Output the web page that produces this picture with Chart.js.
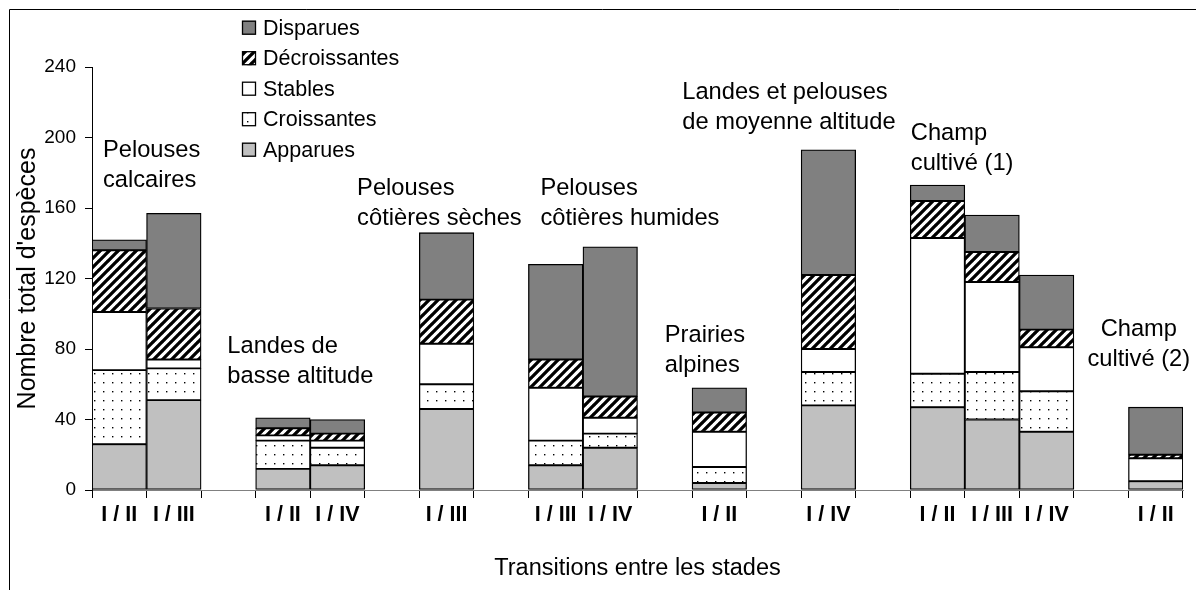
<!DOCTYPE html>
<html><head><meta charset="utf-8">
<script src="https://cdn.jsdelivr.net/npm/chart.js@4/dist/chart.umd.min.js"></script>
<style>html,body{margin:0;padding:0;background:#fff;}canvas{display:block;}</style>
</head><body>
<canvas id="c" width="1196" height="590"></canvas>
<script>
// ---- data ----
const transitions = ['I / II','I / III','','I / II','I / IV','','I / III','','I / III','I / IV','','I / II','','I / IV','','I / II','I / III','I / IV','','I / II'];
const apparues      = [26,51,null,12,14,null,46,null,14,24,null, 4,null,48,null,47,40,33,null, 5];
const croissantes   = [42,18,null,16,10,null,14,null,14, 8,null, 9,null,19,null,19,27,23,null, 0];
const stables       = [33, 5,null, 3, 4,null,23,null,30, 9,null,20,null,13,null,77,51,25,null,13];
const decroissantes = [35,29,null, 4, 4,null,25,null,16,12,null,11,null,42,null,21,17,10,null, 2];
const disparues     = [ 6,54,null, 6, 8,null,38,null,54,85,null,14,null,71,null, 9,21,31,null,27];
const seriesNames = ['Apparues','Croissantes','Stables','Décroissantes','Disparues'];
const yTickValues = [0,40,80,120,160,200,240];
const groupNames = [
  ['Pelouses','calcaires'],
  ['Landes de','basse altitude'],
  ['Pelouses','côtières sèches'],
  ['Pelouses','côtières humides'],
  ['Prairies','alpines'],
  ['Landes et pelouses','de moyenne altitude'],
  ['Champ','cultivé (1)'],
  ['Champ','cultivé (2)']
];
const yTitle = "Nombre total d'espèces";
const xTitle = 'Transitions entre les stades';

// ---- layout (anchors in data units: category index, value) ----
const groupAnchors = [
  {x:-0.30, y:188.9, align:'left'},
  {x: 1.98, y: 77.7, align:'left'},
  {x: 4.36, y:167.4, align:'left'},
  {x: 7.72, y:167.4, align:'left'},
  {x:10.00, y: 84.0, align:'left'},
  {x:10.32, y:221.7, align:'left'},
  {x:14.51, y:198.6, align:'left'},
  {x:18.69, y: 87.4, align:'center'}
];
const FONT = '"Liberation Sans", Arial, sans-serif';

const canvas = document.getElementById('c');
const ctx = canvas.getContext('2d');

function stripePattern(){
  const s = 9, c = document.createElement('canvas'); c.width = c.height = s;
  const g = c.getContext('2d');
  g.fillStyle = '#fff'; g.fillRect(0,0,s,s);
  g.strokeStyle = '#000'; g.lineWidth = 3.3; g.beginPath();
  for (const o of [-s,0,s]) { g.moveTo(o-1, s+1); g.lineTo(o+s+1, -1); }
  g.stroke();
  return ctx.createPattern(c,'repeat');
}
function dotPattern(){
  const s = 9, c = document.createElement('canvas'); c.width = c.height = s;
  const g = c.getContext('2d');
  g.fillStyle = '#fff'; g.fillRect(0,0,s,s);
  g.fillStyle = '#000'; g.fillRect(4,4,1.4,1.4);
  return ctx.createPattern(c,'repeat');
}
const fills = ['#c0c0c0', dotPattern(), '#ffffff', stripePattern(), '#808080'];
const seriesData = [apparues, croissantes, stables, decroissantes, disparues];

const overlay = {
  id:'overlay',
  afterDraw(chart){
    const c = chart.ctx, xs = chart.scales.x, ys = chart.scales.y;
    c.save();
    // frame
    c.strokeStyle = '#000'; c.lineWidth = 1;
    c.beginPath(); c.moveTo(9.5, 590); c.lineTo(9.5, 9.5); c.lineTo(1196, 9.5); c.stroke();
    // legend
    const order = [4,3,2,1,0];
    c.font = '21.5px ' + FONT; c.textBaseline = 'alphabetic'; c.textAlign = 'left';
    order.forEach((si, k) => {
      const base = 34.7 + k*30.5;
      c.fillStyle = fills[si];
      c.fillRect(242, base-14, 14, 14);
      c.strokeStyle = '#000'; c.lineWidth = 1.3;
      c.strokeRect(242.5, base-13.5, 13, 13);
      c.fillStyle = '#000';
      c.fillText(seriesNames[si], 263, base);
    });
    // group labels
    c.font = '23.7px ' + FONT; c.fillStyle = '#000';
    groupNames.forEach((lines, i) => {
      const a = groupAnchors[i];
      const px = xs.getPixelForValue(a.x);
      const py = ys.getPixelForValue(a.y);
      c.textAlign = a.align;
      lines.forEach((t, j) => c.fillText(t, px, py + j*30));
    });
    c.restore();
  }
};

new Chart(canvas, {
  type:'bar',
  data:{
    labels: transitions,
    datasets: seriesNames.map((n,i) => ({
      label:n, data:seriesData[i], backgroundColor:fills[i],
      borderColor:'#000', borderWidth:1.3, borderSkipped:false,
      barPercentage:1, categoryPercentage:1
    }))
  },
  options:{
    responsive:false, animation:false, devicePixelRatio:1,
    layout:{padding:{top:67, right:13, left:0, bottom:0}},
    plugins:{legend:{display:false}, tooltip:{enabled:false}},
    scales:{
      x:{
        stacked:true, offset:true,
        afterFit(s){ s.height = 100; },
        grid:{drawOnChartArea:false, drawTicks:true, tickLength:8, color:'#000', offset:true},
        border:{display:true, color:'#808080', width:1},
        ticks:{autoSkip:false, maxRotation:0, minRotation:0, padding:6, color:'#000',
               font:{family:FONT, size:21.5, weight:'bold', lineHeight:1}},
        title:{display:true, text:xTitle, color:'#000', padding:{top:0,bottom:10},
               font:{family:FONT, size:23.5, lineHeight:1}}
      },
      y:{
        stacked:true, min:0, max:240,
        afterFit(s){ s.width = 92; },
        afterBuildTicks(s){ s.ticks = yTickValues.map(v => ({value:v})); },
        grid:{drawOnChartArea:false, drawTicks:true, tickLength:7, color:'#000'},
        border:{display:true, color:'#000', width:1},
        ticks:{padding:9, color:'#000', font:{family:FONT, size:19, lineHeight:1}},
        title:{display:true, text:yTitle, color:'#000', padding:{top:15.5,bottom:0},
               font:{family:FONT, size:25, lineHeight:1}}
      }
    }
  },
  plugins:[overlay]
});
</script>
</body></html>
